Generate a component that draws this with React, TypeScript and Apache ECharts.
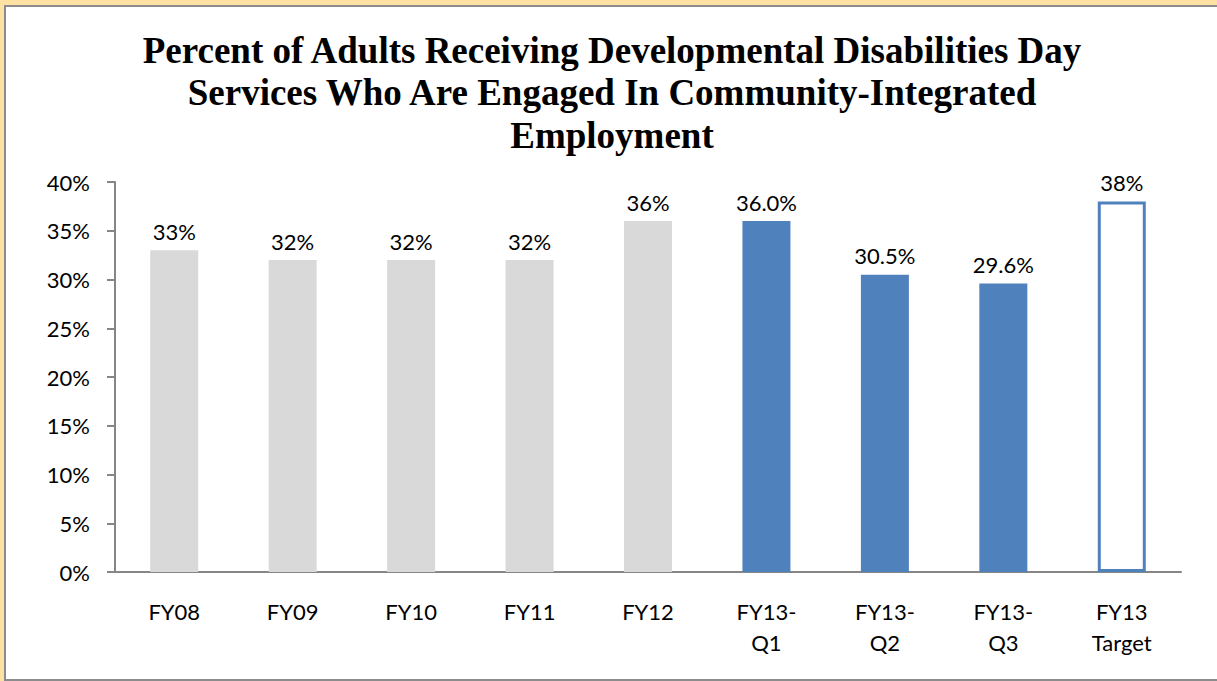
import React, { useEffect, useRef } from "react";
import * as echarts from "echarts";

const categories = ["FY08", "FY09", "FY10", "FY11", "FY12", "FY13-\nQ1", "FY13-\nQ2", "FY13-\nQ3", "FY13\nTarget"];
const values = [33, 32, 32, 32, 36, 36.0, 30.5, 29.6, 38];
const valueLabels = ["33%", "32%", "32%", "32%", "36%", "36.0%", "30.5%", "29.6%", "38%"];
const barKinds = ["past", "past", "past", "past", "past", "current", "current", "current", "target"];
const yTicks = [0, 5, 10, 15, 20, 25, 30, 35, 40];

const titleLines = [
  "Percent of Adults Receiving Developmental Disabilities Day",
  "Services Who Are Engaged In Community-Integrated",
  "Employment",
];

export default function App() {
  const ref = useRef<HTMLDivElement>(null);
  useEffect(() => {
    if (!ref.current) return;
    document.body.style.margin = "0";
    document.body.style.overflow = "hidden";
    document.documentElement.style.overflow = "hidden";
    const chart = echarts.init(ref.current, null, { renderer: "svg" });
    const font = "Lato, 'Open Sans', sans-serif";
    const data = values.map((v, i) => {
      const kind = barKinds[i];
      let itemStyle: any;
      if (kind === "past") itemStyle = { color: "#D9D9D9" };
      else if (kind === "current") itemStyle = { color: "#4F81BD" };
      else itemStyle = { color: "#FFFFFF", borderColor: "#4F81BD", borderWidth: 3 };
      return { value: v, itemStyle };
    });
    chart.setOption({
      animation: false,
      backgroundColor: "#FFFFFF",
      graphic: [
        {
          type: "rect",
          shape: { x: 0, y: 0, width: 1217, height: 5 },
          style: { fill: "#FDE2A4" },
          z: -10,
          silent: true,
        },
        {
          type: "rect",
          shape: { x: 0, y: 0, width: 4, height: 681 },
          style: { fill: "#FDE2A4" },
          z: -10,
          silent: true,
        },
        {
          type: "polyline",
          shape: { points: [[1217, 6], [5, 6], [5, 680], [1217, 680]] },
          style: { stroke: "#8C8C8C", lineWidth: 2, fill: "none" },
          z: -9,
          silent: true,
        },
        {
          type: "text",
          x: 612,
          y: 29,
          style: {
            text: titleLines.join("\n"),
            align: "center",
            verticalAlign: "top",
            font: "bold 37px 'Liberation Serif', 'Times New Roman', serif",
            lineHeight: 42.5,
            fill: "#000000",
          },
          silent: true,
        },
      ],
      grid: { left: 115, top: 182, right: 36, bottom: 109, containLabel: false },
      xAxis: {
        type: "category",
        data: categories,
        axisLine: { lineStyle: { color: "#868686", width: 2 } },
        axisTick: { show: false },
        axisLabel: {
          color: "#000000",
          fontFamily: font,
          fontSize: 22,
          lineHeight: 31,
          margin: 24,
          interval: 0,
        },
      },
      yAxis: {
        type: "value",
        min: 0,
        max: 40,
        interval: 5,
        splitLine: { show: false },
        axisLine: { show: true, lineStyle: { color: "#868686", width: 2 } },
        axisTick: { show: true, inside: false, length: 8, lineStyle: { color: "#868686", width: 2 } },
        axisLabel: {
          color: "#000000",
          fontFamily: font,
          fontSize: 22,
          margin: 25,
          formatter: (v: number) => (yTicks.includes(v) ? `${v}%` : ""),
        },
      },
      series: [
        {
          type: "bar",
          data,
          barWidth: 48,
          label: {
            show: true,
            position: "top",
            distance: 8,
            color: "#000000",
            fontFamily: font,
            fontSize: 22,
            formatter: (p: any) => valueLabels[p.dataIndex],
          },
        },
      ],
    });
    return () => chart.dispose();
  }, []);
  return (
    <div
      ref={ref}
      style={{ position: "absolute", left: 0, top: 0, width: 1217, height: 681, background: "#FFFFFF" }}
    />
  );
}
